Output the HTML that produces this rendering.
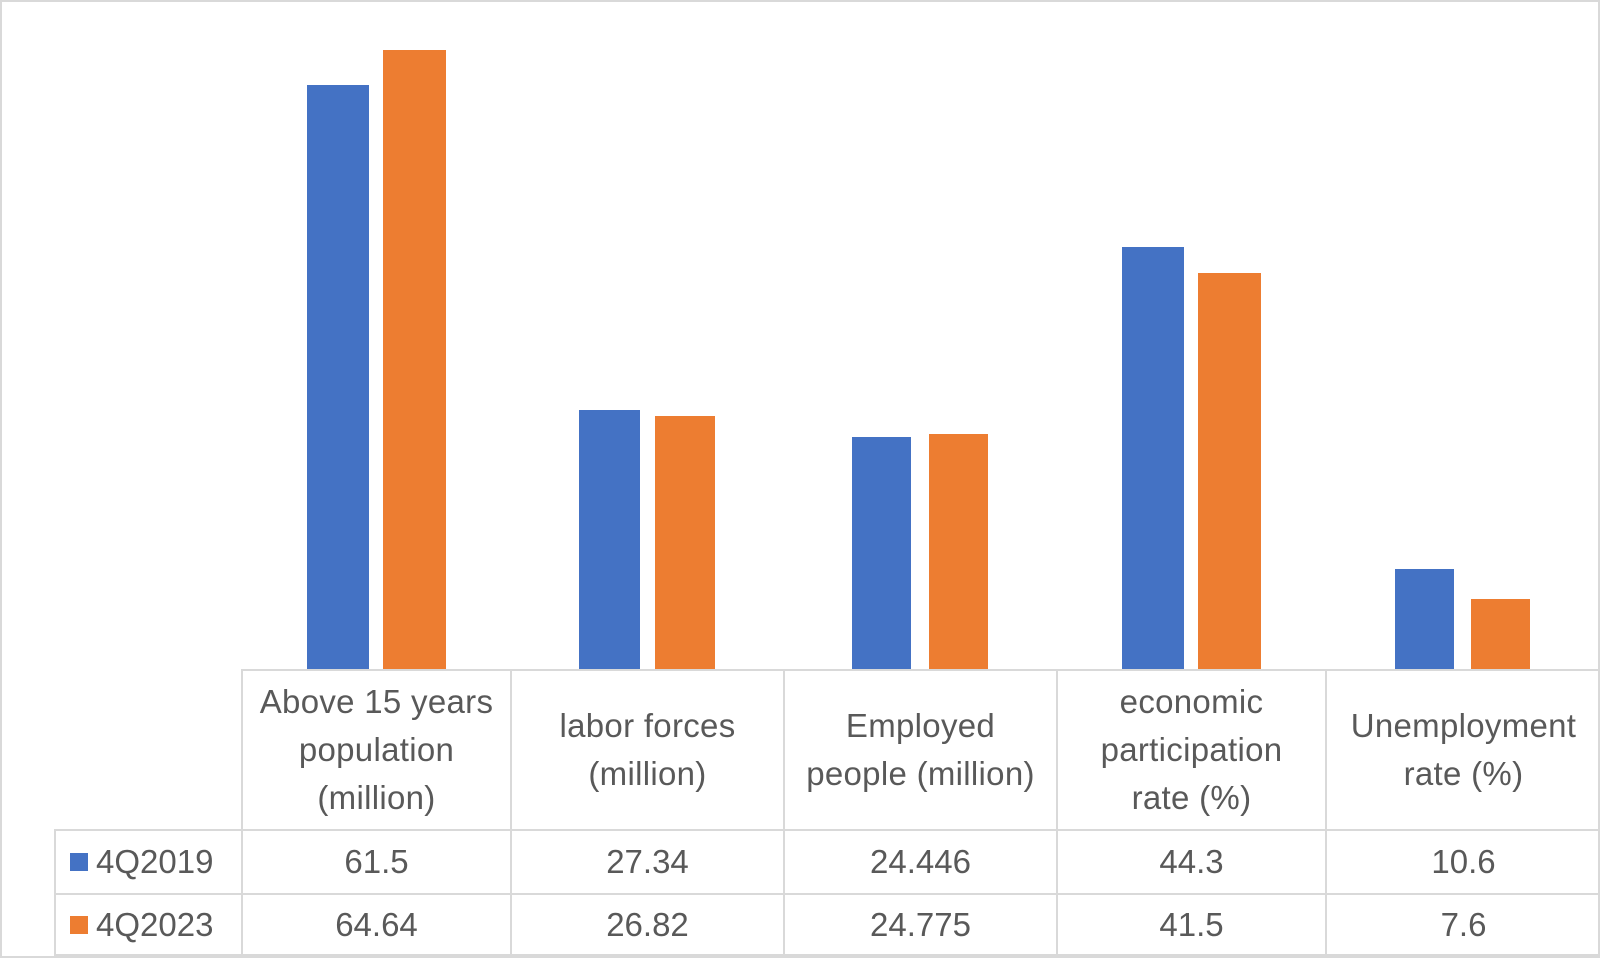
<!DOCTYPE html>
<html><head><style>
body{margin:0;width:1600px;height:958px;background:#fff;position:relative;overflow:hidden;font-family:"Liberation Sans Narrow","Liberation Sans",sans-serif;color:#595959}
.frame{position:absolute;left:0;top:0;width:1596px;height:954px;border:2px solid #d9d9d9}
.b{position:absolute}
.bl{background:#4472c4}.or{background:#ed7d31}
.l{position:absolute;background:#d9d9d9}
.h{position:absolute;top:671px;height:158px;display:flex;align-items:center;justify-content:center;text-align:center;font-size:33px;line-height:48px;letter-spacing:0.3px}
.v{position:absolute;height:62px;display:flex;align-items:center;justify-content:center;font-size:33px}
.lg{position:absolute;left:70px;font-size:33px;height:62px;display:flex;align-items:center}
.lg i{display:inline-block;width:18px;height:18px;margin-right:8px}
</style></head><body>
<div class="frame"></div>
<div class="b bl" style="left:307px;top:85px;width:62px;height:584px"></div>
<div class="b or" style="left:383px;top:50px;width:63px;height:619px"></div>
<div class="b bl" style="left:579px;top:410px;width:61px;height:259px"></div>
<div class="b or" style="left:655px;top:416px;width:60px;height:253px"></div>
<div class="b bl" style="left:852px;top:437px;width:59px;height:232px"></div>
<div class="b or" style="left:929px;top:434px;width:59px;height:235px"></div>
<div class="b bl" style="left:1122px;top:247px;width:62px;height:422px"></div>
<div class="b or" style="left:1198px;top:273px;width:63px;height:396px"></div>
<div class="b bl" style="left:1395px;top:569px;width:59px;height:100px"></div>
<div class="b or" style="left:1471px;top:599px;width:59px;height:70px"></div>
<div class="l" style="left:242px;top:669px;width:1358px;height:2px"></div>
<div class="l" style="left:54px;top:829px;width:1546px;height:2px"></div>
<div class="l" style="left:54px;top:893px;width:1546px;height:2px"></div>
<div class="l" style="left:54px;top:954px;width:1546px;height:2px"></div>
<div class="l" style="left:54px;top:829px;width:2px;height:129px"></div>
<div class="l" style="left:241px;top:669px;width:2px;height:289px"></div>
<div class="l" style="left:510px;top:669px;width:2px;height:289px"></div>
<div class="l" style="left:783px;top:669px;width:2px;height:289px"></div>
<div class="l" style="left:1056px;top:669px;width:2px;height:289px"></div>
<div class="l" style="left:1325px;top:669px;width:2px;height:289px"></div>
<div class="h" style="left:243px;width:267px">Above 15 years<br>population<br>(million)</div>
<div class="h" style="left:512px;width:271px">labor forces<br>(million)</div>
<div class="h" style="left:785px;width:271px">Employed<br>people (million)</div>
<div class="h" style="left:1058px;width:267px">economic<br>participation<br>rate (%)</div>
<div class="h" style="left:1327px;width:273px">Unemployment<br>rate (%)</div>
<div class="lg" style="top:831px"><i class="bl"></i>4Q2019</div>
<div class="lg" style="top:894px"><i class="or"></i>4Q2023</div>
<div class="v" style="left:243px;width:267px;top:831px">61.5</div>
<div class="v" style="left:512px;width:271px;top:831px">27.34</div>
<div class="v" style="left:785px;width:271px;top:831px">24.446</div>
<div class="v" style="left:1058px;width:267px;top:831px">44.3</div>
<div class="v" style="left:1327px;width:273px;top:831px">10.6</div>
<div class="v" style="left:243px;width:267px;top:894px">64.64</div>
<div class="v" style="left:512px;width:271px;top:894px">26.82</div>
<div class="v" style="left:785px;width:271px;top:894px">24.775</div>
<div class="v" style="left:1058px;width:267px;top:894px">41.5</div>
<div class="v" style="left:1327px;width:273px;top:894px">7.6</div>
</body></html>
